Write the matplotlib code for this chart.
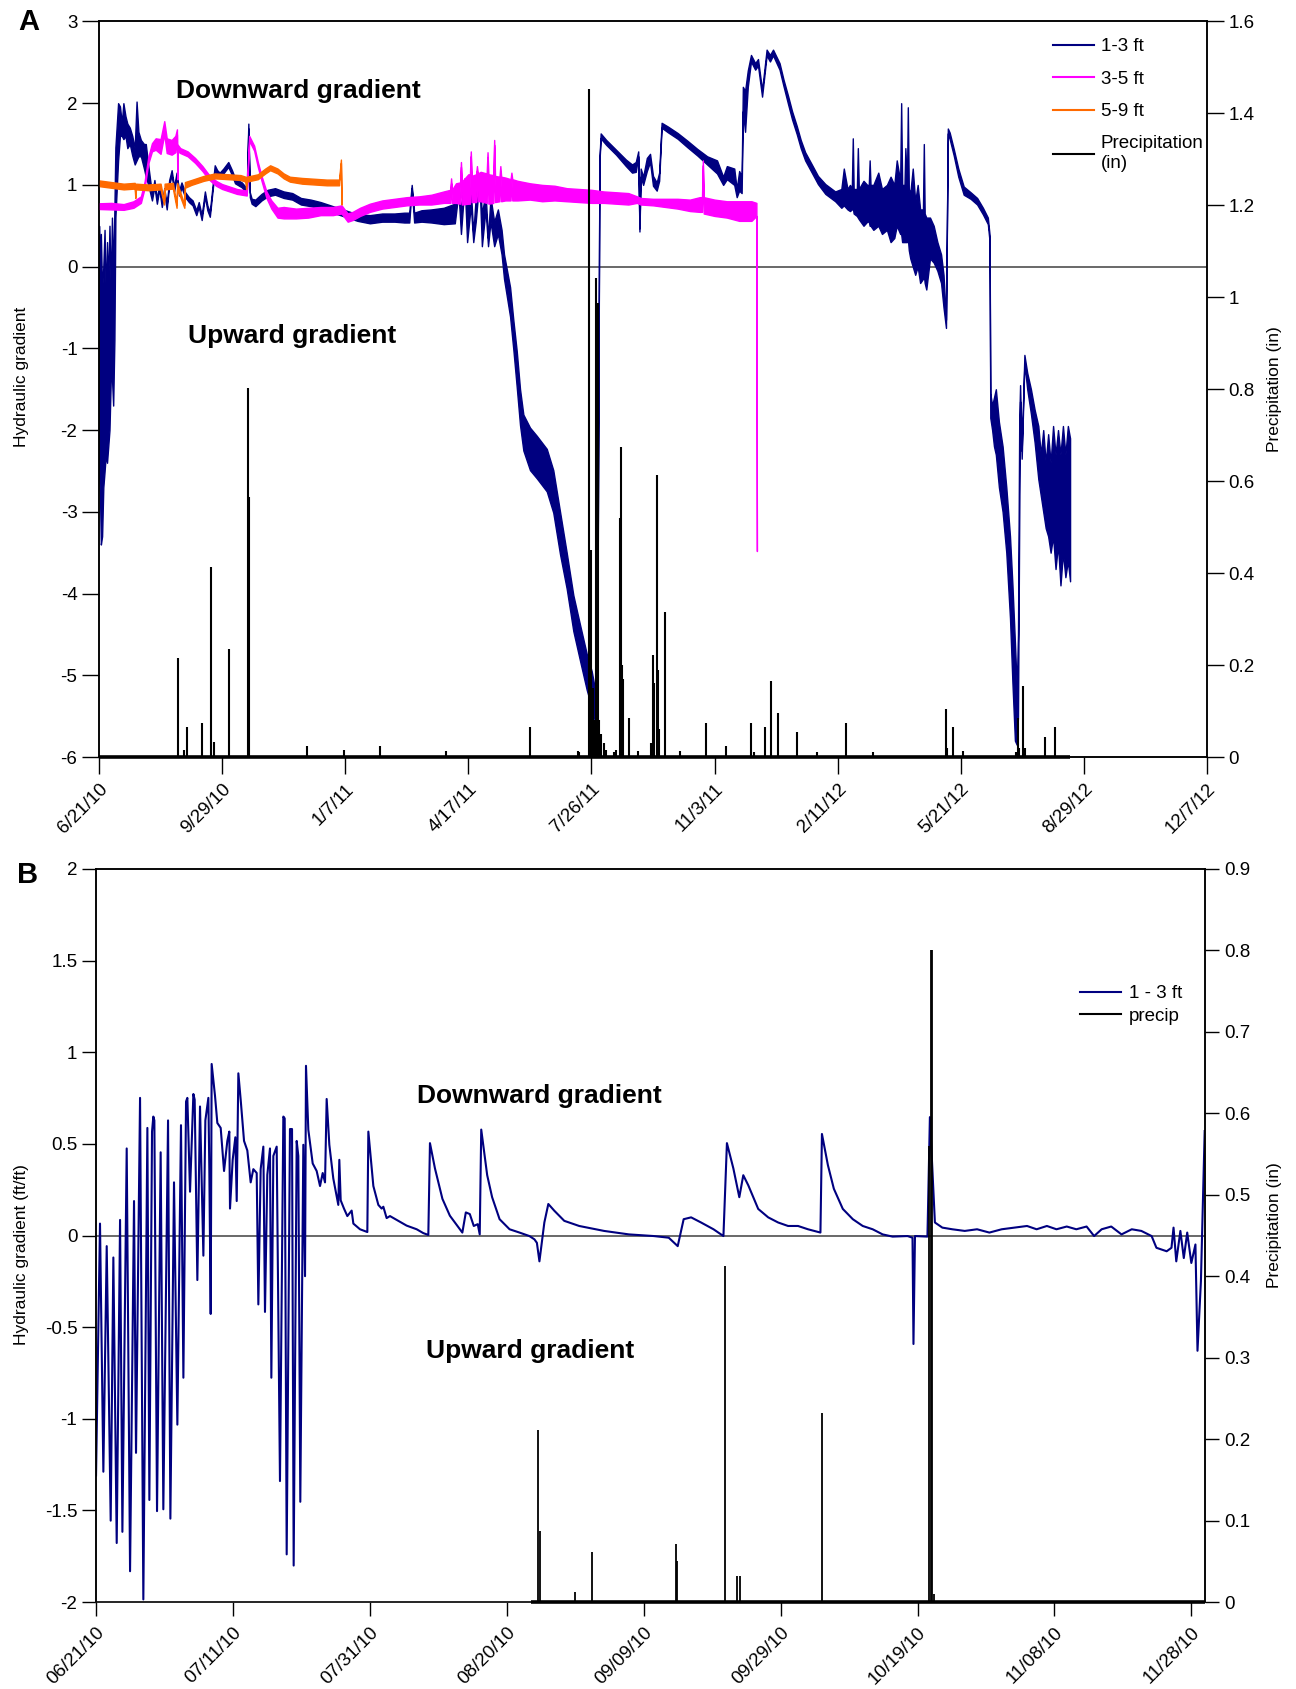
import numpy as np
import pandas as pd
import matplotlib
matplotlib.use("Agg")
import matplotlib.pyplot as plt
from matplotlib.lines import Line2D
from matplotlib.ticker import FormatStrFormatter

plt.rcParams['axes.unicode_minus'] = False
NARROW = ['Liberation Sans Narrow', 'Liberation Sans', 'DejaVu Sans']
REG = ['Liberation Sans', 'DejaVu Sans']
plt.rcParams['font.family'] = NARROW

NAVY = '#000080'
MAG = '#ff00ff'
ORANGE = '#ff6a00'

# ---------------- Panel A data (day since 6/21/10, value, noise half-width) ----------------
start_a = '6/21/10'
ticks_a = ['6/21/10', '9/29/10', '1/7/11', '4/17/11', '7/26/11', '11/3/11',
           '2/11/12', '5/21/12', '8/29/12', '12/7/12']

navy_a = [
    (0, -1.0, 1.5), (0.8, -1.5, 1.3), (1.5, -1.5, 1.9), (2.5, -1.8, 1.5), (3.5, -1.35, 1.35),
    (4.5, -1.03, 1.48), (5.5, -1.35, 0.95), (6.5, -1.05, 1.35), (7.5, -1.2, 1.0), (8.5, -0.75, 1.25),
    (9.5, -0.85, 0.55), (10.5, -0.38, 0.98), (11.5, -0.9, 0.8), (12.5, -0.1, 0.8), (13.3, 1.03, 0.43),
    (15.5, 1.65, 0.35), (17, 1.78, 0.18), (18.5, 1.68, 0.08), (19.8, 1.78, 0.22), (21.5, 1.72, 0.12),
    (23, 1.6, 0.15), (25, 1.6, 0.1), (27, 1.48, 0.12), (29, 1.35, 0.1), (30.5, 1.66, 0.36),
    (32, 1.5, 0.15), (34, 1.45, 0.1), (36.5, 1.35, 0.15), (38, 1.3, 0.2), (40, 1.12, 0.12),
    (43, 0.85, 0.04), (45, 1.02, 0.04), (47, 0.8, 0.03), (49, 0.98, 0.03), (51, 0.76, 0.03),
    (53, 0.93, 0.03), (55, 0.73, 0.03), (57, 1.03, 0.03), (59, 1.15, 0.03), (61, 0.95, 0.03),
    (63, 1.12, 0.03), (65, 0.9, 0.03), (67, 1.0, 0.03), (70, 0.88, 0.03), (73, 0.82, 0.03),
    (76, 0.78, 0.03), (79, 0.66, 0.03), (81, 0.76, 0.03), (83.4, 0.6, 0.03), (86, 0.89, 0.03),
    (88, 0.72, 0.03), (90, 0.64, 0.03), (94, 1.21, 0.03), (96, 1.15, 0.03), (98, 1.12, 0.03),
    (101, 1.17, 0.03), (105, 1.25, 0.03), (108, 1.15, 0.03), (110.5, 1.05, 0.03), (116, 1.0, 0.03),
    (120, 0.93, 0.03), (121.3, 1.72, 0.03), (122.5, 0.88, 0.03), (124, 0.8, 0.03), (127, 0.78, 0.04),
    (132, 0.85, 0.04), (137, 0.9, 0.04), (143, 0.92, 0.04), (150, 0.88, 0.04), (157, 0.86, 0.04),
    (164, 0.8, 0.04), (172, 0.78, 0.04), (180, 0.75, 0.04), (190, 0.7, 0.04), (200, 0.65, 0.04),
    (210, 0.6, 0.04), (220, 0.58, 0.05), (230, 0.6, 0.05), (240, 0.6, 0.05), (248, 0.6, 0.06),
    (252, 0.6, 0.06), (254, 0.98, 0.02), (256, 0.6, 0.06), (262, 0.62, 0.07), (270, 0.62, 0.08),
    (280, 0.62, 0.1), (289, 0.65, 0.12), (292, 0.95, 0.04), (294, 0.55, 0.15), (297, 1.05, 0.03),
    (299, 0.5, 0.2), (302, 0.85, 0.1), (304, 0.35, 0.05), (306, 0.7, 0.15), (309, 1.1, 0.03),
    (311, 0.45, 0.2), (314, 0.8, 0.1), (316, 0.3, 0.05), (318, 0.7, 0.15), (321, 0.4, 0.15),
    (324, 0.55, 0.15), (327, 0.3, 0.15),
    (329, 0.0, 0.15), (333.9, -0.43, 0.18), (336.6, -0.84, 0.18), (339.3, -1.25, 0.22), (342, -1.72, 0.22),
    (344.7, -2.03, 0.22), (350.1, -2.23, 0.26), (355.6, -2.33, 0.26), (363.7, -2.49, 0.26), (369, -2.75, 0.26),
    (374.5, -3.26, 0.26), (379.9, -3.72, 0.22), (385.3, -4.24, 0.22), (390.7, -4.6, 0.22), (396.2, -4.96, 0.22),
    (400.2, -5.17, 0.22), (402.9, -5.37, 0.2), (404.5, -5.65, 0.1), (406.5, 1.3, 0.02), (407.5, 1.6, 0.03),
    (412, 1.52, 0.03), (420, 1.4, 0.03), (428, 1.27, 0.04), (433, 1.2, 0.05), (436, 1.22, 0.06),
    (438, 1.38, 0.03), (439, 0.45, 0.02), (440, 1.15, 0.05), (442, 1.05, 0.05), (445, 1.25, 0.08),
    (447.6, 1.33, 0.05), (450, 1.05, 0.06), (453, 0.98, 0.05), (455, 1.1, 0.05), (457, 1.73, 0.03),
    (462, 1.68, 0.035), (470, 1.6, 0.035), (478, 1.5, 0.04), (486, 1.4, 0.04), (494, 1.3, 0.05),
    (502, 1.22, 0.08), (507, 1.05, 0.05), (510, 1.15, 0.08), (516, 1.1, 0.1), (518, 0.9, 0.05),
    (520, 1.05, 0.12), (522, 1.0, 0.1),
    (523, 2.05, 0.15), (524.8, 1.9, 0.25), (527, 2.3, 0.1), (529.6, 2.55, 0.04), (533, 2.45, 0.04),
    (535.3, 2.5, 0.04), (538.6, 2.12, 0.04), (542.3, 2.62, 0.035), (545, 2.55, 0.04), (547.5, 2.62, 0.035),
    (552.8, 2.45, 0.04), (556, 2.25, 0.04), (559.7, 2.04, 0.05), (563, 1.85, 0.05), (566.8, 1.67, 0.05),
    (570, 1.5, 0.05), (573.6, 1.35, 0.05), (579, 1.2, 0.05), (584, 1.06, 0.05), (590, 0.95, 0.06),
    (598, 0.86, 0.06), (603, 0.835, 0.115), (605, 0.975, 0.225), (608, 0.825, 0.125), (610, 0.84, 0.16),
    (611.5, 0.825, 0.125), (612.3, 1.145, 0.425), (613, 0.8, 0.15), (615.6, 0.785, 0.165),
    (616.4, 1.025, 0.425), (617.2, 0.765, 0.185), (621, 0.775, 0.275), (624, 0.775, 0.225),
    (625.3, 0.775, 0.225), (626, 0.9, 0.4), (626.7, 0.75, 0.25), (629, 0.725, 0.275), (633, 0.825, 0.325),
    (636, 0.675, 0.275), (640, 0.725, 0.275), (643, 0.7, 0.4), (646, 0.675, 0.325), (648, 0.9, 0.4),
    (650.8, 0.725, 0.325), (651.6, 1.2, 0.8), (652.4, 0.65, 0.35), (654.3, 0.65, 0.35), (655, 0.875, 0.575),
    (656.3, 0.65, 0.35), (657, 1.15, 0.8), (657.8, 0.575, 0.375), (659, 0.5, 0.4), (661, 0.6, 0.6),
    (663, 0.35, 0.45), (665, 0.5, 0.5), (667, 0.25, 0.45), (669.3, 0.275, 0.425), (670, 0.7, 0.8),
    (670.7, 0.225, 0.425), (672, 0.16, 0.44), (675, 0.35, 0.25), (678, 0.275, 0.225), (681, 0.125, 0.175),
    (684, -0.025, 0.175), (686, -0.3, 0.2), (688, -0.7, 0.05),
    (689.5, 1.66, 0.03), (691, 1.6, 0.04), (694.3, 1.4, 0.04), (698, 1.15, 0.05), (702.4, 0.93, 0.05),
    (708, 0.87, 0.04), (713.3, 0.8, 0.04), (718, 0.68, 0.04), (722, 0.56, 0.04), (723.4, 0.35, 0.04),
    (724, -1.7, 0.15), (725.5, -1.85, 0.15), (727, -1.9, 0.3), (728.5, -1.9, 0.4), (731, -2.3, 0.4),
    (734, -2.6, 0.4), (737, -3.1, 0.4), (740, -3.8, 0.5), (742, -4.5, 0.6), (744, -5.2, 0.6),
    (745.5, -5.5, 0.35), (746.5, -5.0, 0.5), (747.5, -2.5, 0.6), (748.2, -1.55, 0.1), (749.5, -2.3, 0.05),
    (751.7, -1.13, 0.05), (754, -1.4, 0.1), (757, -1.65, 0.15), (760, -1.95, 0.2), (763, -2.275, 0.325),
    (765, -2.55, 0.25), (767, -2.5, 0.5), (769, -2.8, 0.4), (771, -2.675, 0.625), (773, -2.95, 0.55),
    (775, -2.625, 0.675), (777, -3.0, 0.7), (779, -2.7, 0.7), (781, -3.1, 0.8), (783, -2.725, 0.775),
    (785, -3.05, 0.75), (787, -2.775, 0.825), (788.8, -2.975, 0.875),
]

magenta_a = [
    (0, 0.74, 0.035), (10, 0.74, 0.04), (20, 0.73, 0.035), (28, 0.76, 0.04), (34, 0.82, 0.04),
    (37, 1.0, 0.04), (40, 1.3, 0.04), (43, 1.46, 0.05), (46, 1.5, 0.07), (50, 1.47, 0.09),
    (53, 1.7, 0.08), (55, 1.48, 0.09), (59, 1.46, 0.09), (62, 1.5, 0.1), (63.3, 1.65, 0.03),
    (63.6, 1.1, 0.03), (64, 1.45, 0.04), (66, 1.42, 0.03), (72, 1.38, 0.03), (78, 1.3, 0.03),
    (84, 1.2, 0.03), (89, 1.1, 0.03), (95, 1.02, 0.03), (100, 0.98, 0.03), (106, 0.95, 0.03),
    (112, 0.92, 0.03), (120, 0.9, 0.03), (122, 1.57, 0.03), (126, 1.45, 0.03), (129, 1.25, 0.03),
    (132, 1.08, 0.03), (136, 0.88, 0.04), (140, 0.76, 0.05), (145, 0.66, 0.06), (150, 0.66, 0.07),
    (160, 0.65, 0.06), (170, 0.66, 0.06), (180, 0.68, 0.05), (190, 0.68, 0.05), (197, 0.7, 0.05),
    (202, 0.6, 0.05), (206, 0.62, 0.05), (212, 0.67, 0.05), (220, 0.72, 0.05), (230, 0.76, 0.05),
    (240, 0.78, 0.05), (250, 0.8, 0.05), (260, 0.81, 0.05), (270, 0.82, 0.06), (280, 0.85, 0.07),
    (285.3, 0.86, 0.08), (286, 1.05, 0.03), (286.7, 0.86, 0.08), (290, 0.9, 0.12), (293.3, 0.9, 0.13),
    (294, 1.25, 0.03), (294.7, 0.9, 0.14), (300, 0.95, 0.18), (301.3, 0.95, 0.18), (302, 1.38, 0.03),
    (302.7, 0.95, 0.16), (306.3, 0.96, 0.17), (307, 1.2, 0.03), (307.7, 0.97, 0.17), (310, 0.98, 0.18),
    (314.9, 0.96, 0.18), (315.6, 1.37, 0.03), (316.3, 0.95, 0.18), (320.3, 0.95, 0.17), (321, 1.52, 0.03),
    (321.7, 0.95, 0.16), (325.3, 0.95, 0.15), (326, 1.2, 0.03), (326.7, 0.95, 0.15), (330, 0.95, 0.14),
    (334.3, 0.94, 0.13), (335, 1.12, 0.03), (335.7, 0.94, 0.13), (340, 0.93, 0.12), (350, 0.92, 0.1),
    (360, 0.9, 0.1), (370, 0.9, 0.09), (380, 0.88, 0.08), (390, 0.87, 0.08), (400, 0.86, 0.08),
    (410, 0.85, 0.07), (420, 0.84, 0.07), (430, 0.83, 0.07), (437, 0.82, 0.04), (440, 0.8, 0.04),
    (450, 0.79, 0.04), (460, 0.78, 0.05), (470, 0.77, 0.06), (480, 0.75, 0.07), (488, 0.76, 0.09),
    (489.8, 0.76, 0.09), (490.5, 1.27, 0.03), (491.2, 0.75, 0.1), (500, 0.72, 0.1), (510, 0.7, 0.1),
    (520, 0.68, 0.12), (530, 0.68, 0.12), (534, 0.7, 0.08), (534.4, -3.48, 0.0),
]

orange_a = [
    (0, 1.02, 0.035), (10, 1.0, 0.035), (20, 0.98, 0.035), (29, 0.99, 0.035), (29.5, 0.86, 0.02),
    (30, 0.98, 0.035), (40, 0.97, 0.035), (50, 0.98, 0.035), (52.8, 0.78, 0.02), (53.3, 0.98, 0.035),
    (60, 0.99, 0.035), (63, 0.74, 0.02), (63.5, 0.99, 0.035), (69.3, 0.74, 0.02), (69.8, 1.0, 0.035),
    (75, 1.03, 0.03), (85, 1.08, 0.03), (94, 1.11, 0.03), (105, 1.1, 0.03), (115, 1.09, 0.03),
    (119, 1.07, 0.03), (119.5, 0.97, 0.02), (120, 1.07, 0.03), (129, 1.1, 0.03), (135, 1.17, 0.03),
    (139, 1.21, 0.03), (145, 1.17, 0.03), (150, 1.11, 0.03), (155, 1.07, 0.03), (165, 1.05, 0.035),
    (175, 1.04, 0.035), (185, 1.03, 0.035), (195, 1.03, 0.035), (196.5, 1.29, 0.02), (197, 0.78, 0.02),
]

precip_a_day = [63.9, 69, 71.7, 84, 91.2, 93.3, 105.2, 121.3, 121.6, 169, 199, 227.9, 282,
                349.7, 389, 390, 398.4, 399.5, 401, 402, 403.4, 404.5, 405.4, 406.5, 408, 410,
                412, 418, 420, 423, 424, 425, 426, 430.6, 438, 448, 450.3, 451, 452.9, 454,
                455, 459.5, 471.6, 493.3, 509.3, 530, 532, 540.9, 546.2, 551.7, 567, 583.3,
                606.7, 629, 688.3, 689, 693.6, 701.6, 745, 746.4, 747.5, 750.6, 752, 768.1, 776.8]
precip_a_in = [0.215, 0.015, 0.065, 0.075, 0.414, 0.033, 0.234, 0.803, 0.566, 0.025, 0.015, 0.025,
               0.012, 0.065, 0.012, 0.01, 1.452, 0.45, 0.15, 0.08, 1.043, 0.12, 0.987, 0.08, 0.05,
               0.03, 0.015, 0.01, 0.015, 0.52, 0.675, 0.2, 0.17, 0.085, 0.012, 0.03, 0.222, 0.16,
               0.613, 0.19, 0.06, 0.315, 0.013, 0.075, 0.025, 0.075, 0.01, 0.065, 0.165, 0.095,
               0.055, 0.01, 0.075, 0.01, 0.104, 0.02, 0.065, 0.012, 0.01, 0.085, 0.02, 0.155, 0.02,
               0.044, 0.065]
precip_a_span = (0, 789)

# ---------------- Panel B data ----------------
start_b = '06/21/10'
ticks_b = ['06/21/10', '07/11/10', '07/31/10', '08/20/10', '09/09/10', '09/29/10',
           '10/19/10', '11/08/10', '11/28/10']
xmax_b = 162

navy_b_day = [0, 0.58, 1.07, 1.56, 2.14, 2.53, 3.02, 3.51, 3.85, 4.48, 4.97, 5.55, 5.84, 6.43, 6.91,
              7.5, 7.79, 8.18, 8.37, 8.52, 8.91, 9.44, 9.83, 10.52, 10.86, 11.39, 11.88, 12.41, 12.76,
              13.15, 13.34, 13.73, 14.22, 14.41, 14.8, 15.19, 15.68, 15.97, 16.41, 16.55, 16.75, 16.89,
              17.38, 17.72, 18.21, 18.7, 19.18, 19.47, 19.57, 19.96, 20.35, 20.55, 20.79, 21.13, 21.62,
              22.1, 22.59, 22.98, 23.47, 23.71, 24.05, 24.44, 24.68, 25.02, 25.41, 25.61, 25.9, 26.39,
              26.87, 27.36, 27.56, 27.85, 28.33, 28.63, 28.87, 29.31, 29.55, 29.84, 30.28, 30.53, 30.67,
              31.01, 31.65, 32.23, 32.72, 33.11, 33.45, 33.69, 34.08, 34.66, 35.39, 35.54, 35.74, 36.22,
              36.71, 37.34, 37.59, 38.56, 39.63, 39.78, 40.51, 41.24, 41.72, 41.97, 42.45, 42.94, 43.91,
              45.37, 46.84, 47.81, 48.54, 48.78, 49.51, 50.6, 51.69, 52.79, 53.51, 54.02, 54.6, 55.18,
              55.76, 56.05, 56.27, 57.14, 57.86, 58.95, 60.41, 61.86, 63.31, 64.04, 64.4, 64.77, 65.49,
              66.07, 66.95, 68.4, 70.58, 74.21, 77.85, 81.48, 83.66, 84.97, 85.84, 86.93, 88.38, 90.2,
              91.65, 92.16, 93.1, 93.97, 94.55, 95.28, 96.73, 98.19, 99.64, 101.09, 102.55, 104.0, 105.82,
              106.04, 106.91, 107.78, 109.09, 110.55, 112.0, 113.45, 114.91, 116.36, 118.54, 119.27,
              119.41, 119.63, 121.45, 121.81, 122.54, 123.63, 125.08, 126.9, 128.7, 130.5, 132.3, 134.2,
              136.0, 137.4, 138.9, 140.3, 141.8, 143.2, 144.7, 145.8, 146.9, 148.3, 149.8, 151.3, 152.7,
              154.2, 154.9, 156.4, 157.1, 157.4, 157.8, 158.4, 158.9, 159.4, 160.0, 160.6, 160.9, 161.4,
              161.95]
navy_b_val = [-1.309, 0.065, -1.289, -0.058, -1.556, -0.12, -1.678, 0.085, -1.617, 0.475, -1.832, 0.188,
              -1.186, 0.751, -1.986, 0.587, -1.443, 0.567, 0.649, 0.628, -1.504, 0.454, -1.494, 0.628,
              -1.545, 0.29, -1.032, 0.602, -0.776, 0.731, 0.751, 0.239, 0.772, 0.741, -0.243, 0.704,
              -0.11, 0.628, 0.751, 0.362, -0.428, 0.936, 0.762, 0.614, 0.587, 0.352, 0.516, 0.567, 0.147,
              0.413, 0.536, 0.188, 0.885, 0.741, 0.516, 0.464, 0.29, 0.362, 0.341, -0.376, 0.362, 0.485,
              -0.417, 0.331, 0.475, -0.776, 0.434, 0.485, -1.34, 0.649, 0.639, -1.74, 0.581, 0.581,
              -1.801, 0.516, 0.434, -1.453, 0.495, -0.222, 0.926, 0.577, 0.393, 0.352, 0.27, 0.341, 0.29,
              0.745, 0.495, 0.311, 0.167, 0.413, 0.192, 0.147, 0.106, 0.136, 0.065, 0.034, 0.019, 0.567,
              0.27, 0.167, 0.147, 0.157, 0.095, 0.106, 0.085, 0.054, 0.034, 0.013, 0.003, 0.504, 0.366,
              0.2, 0.108, 0.052, 0.016, 0.126, 0.117, 0.052, 0.062, 0.006, 0.578, 0.329, 0.209, 0.089,
              0.034, 0.016, -0.003, -0.021, -0.04, -0.141, 0.071, 0.172, 0.135, 0.08, 0.052, 0.025, 0.006,
              -0.003, -0.012, -0.058, 0.089, 0.099, 0.071, 0.034, -0.003, 0.504, 0.366, 0.209, 0.329,
              0.274, 0.145, 0.099, 0.071, 0.052, 0.052, 0.034, 0.016, 0.554, 0.384, 0.255, 0.145, 0.089,
              0.052, 0.034, 0.006, -0.006, -0.003, -0.012, -0.592, -0.003, -0.006, 0.646, 0.071, 0.043,
              0.034, 0.025, 0.034, 0.016, 0.034, 0.043, 0.052, 0.034, 0.052, 0.034, 0.049, 0.034, 0.049,
              -0.003, 0.034, 0.049, 0.006, 0.034, 0.025, -0.003, -0.067, -0.086, -0.067, 0.043, -0.141,
              0.025, -0.123, 0.016, -0.15, -0.049, -0.629, -0.25, 0.57]

precip_b_day = [64.6, 64.8, 69.9, 72.4, 84.7, 84.9, 91.9, 93.6, 94.0, 106.0, 121.7, 121.9, 122.1, 122.4]
precip_b_in = [0.211, 0.087, 0.012, 0.062, 0.071, 0.05, 0.412, 0.032, 0.032, 0.232, 0.56, 0.80, 0.80, 0.01]
precip_b_span = (63.6, 162)


def tick_days(labels, start):
    t0 = pd.to_datetime(start, format='%m/%d/%y')
    return [(pd.to_datetime(s, format='%m/%d/%y') - t0).days for s in labels]


def band(ax, rows, color, z):
    d, v, s = np.array(rows, dtype=float).T
    ax.fill_between(d, v - s, v + s, color=color, lw=1.0, zorder=z)


def style_axes(ax, ax2, length):
    for sp in list(ax.spines.values()) + list(ax2.spines.values()):
        sp.set_linewidth(1.1)
    ax.tick_params(axis='both', direction='out', length=length, width=1.0,
                   labelsize=13.5, top=False, right=False)
    ax2.tick_params(axis='y', direction='out', length=length, width=1.0, labelsize=13.5)
    ax.yaxis.set_major_formatter(FormatStrFormatter('%g'))
    ax2.yaxis.set_major_formatter(FormatStrFormatter('%g'))


fig = plt.figure(figsize=(12.96, 16.89), dpi=100)

# ================= Panel A =================
axA = fig.add_axes([0.0764, 0.5518, 0.8549, 0.4355])
axA2 = axA.twinx()
axA.set_xlim(0, 900)
axA.set_ylim(-6, 3)
axA2.set_ylim(0, 1.6)
axA.axhline(0, color='#404040', lw=1.1, zorder=1)

band(axA, navy_a, NAVY, 2)
band(axA, magenta_a, MAG, 3)
band(axA, orange_a, ORANGE, 4)

axA2.vlines(precip_a_day, 0, precip_a_in, color='k', lw=1.5)
axA2.hlines(0, *precip_a_span, color='k', lw=2.6, clip_on=False)

axA.set_xticks(tick_days(ticks_a, start_a))
axA.set_xticklabels(ticks_a, rotation=45, ha='right', va='top', rotation_mode='anchor')
axA.set_yticks(range(-6, 4))
axA2.set_yticks(np.arange(0, 1.61, 0.2))
style_axes(axA, axA2, 12)
axA.tick_params(axis='x', pad=5)

axA.text(162, 2.15, 'Downward gradient', family=REG, weight='bold', fontsize=19, ha='center', va='center')
axA.text(157, -0.85, 'Upward gradient', family=REG, weight='bold', fontsize=19, ha='center', va='center')

hA = [Line2D([], [], color=c, lw=1.5) for c in (NAVY, MAG, ORANGE, 'k')]
axA2.legend(hA, ['1-3 ft', '3-5 ft', '5-9 ft', 'Precipitation\n(in)'], loc='upper left',
            bbox_to_anchor=(1053 / 1296, 1 - 38 / 1689), bbox_transform=fig.transFigure,
            frameon=False, fontsize=13.5, handlelength=2.2, handletextpad=0.35,
            labelspacing=0.82, borderpad=0, borderaxespad=0)

fig.text(29 / 1296, 1 - 22 / 1689, 'A', family=REG, weight='bold', fontsize=21, ha='center', va='center')
fig.text(21.5 / 1296, 1 - 377 / 1689, 'Hydraulic gradient', family=REG, fontsize=12.5,
         rotation=90, ha='center', va='center')
fig.text(1274 / 1296, 1 - 389 / 1689, 'Precipitation (in)', family=REG, fontsize=12.5,
         rotation=90, ha='center', va='center')

# ================= Panel B =================
axB = fig.add_axes([0.0741, 0.0515, 0.8557, 0.434])
axB2 = axB.twinx()
axB.set_xlim(0, xmax_b)
axB.set_ylim(-2, 2)
axB2.set_ylim(0, 0.9)
axB.axhline(0, color='#404040', lw=1.1, zorder=1)
axB.spines['bottom'].set_color('#a0a0a0')

axB.plot(navy_b_day, navy_b_val, color=NAVY, lw=1.5, zorder=2)

axB2.vlines(precip_b_day, 0, precip_b_in, color='k', lw=1.3)
axB2.hlines(0, *precip_b_span, color='k', lw=2.6, clip_on=False)

axB.set_xticks(tick_days(ticks_b, start_b))
axB.set_xticklabels(ticks_b, rotation=45, ha='right', va='top', rotation_mode='anchor')
axB.set_yticks(np.arange(-2, 2.01, 0.5))
axB2.set_yticks(np.arange(0, 0.91, 0.1))
style_axes(axB, axB2, 10)
axB.tick_params(axis='x', pad=6)

axB.text(64.8, 0.76, 'Downward gradient', family=REG, weight='bold', fontsize=19, ha='center', va='center')
axB.text(63.4, -0.63, 'Upward gradient', family=REG, weight='bold', fontsize=19, ha='center', va='center')

hB = [Line2D([], [], color=c, lw=1.5) for c in (NAVY, 'k')]
axB2.legend(hB, ['1 - 3 ft', 'precip'], loc='upper left',
            bbox_to_anchor=(1080 / 1296, 1 - 985 / 1689), bbox_transform=fig.transFigure,
            frameon=False, fontsize=13.5, handlelength=2.2, handletextpad=0.4,
            labelspacing=0.3, borderpad=0, borderaxespad=0)

fig.text(28 / 1296, 1 - 875 / 1689, 'B', family=REG, weight='bold', fontsize=21, ha='center', va='center')
fig.text(21.5 / 1296, 1 - 1255 / 1689, 'Hydraulic gradient (ft/ft)', family=REG, fontsize=12.5,
         rotation=90, ha='center', va='center')
fig.text(1274 / 1296, 1 - 1225 / 1689, 'Precipitation (in)', family=REG, fontsize=12.5,
         rotation=90, ha='center', va='center')

fig.savefig('out.png', dpi=100)
